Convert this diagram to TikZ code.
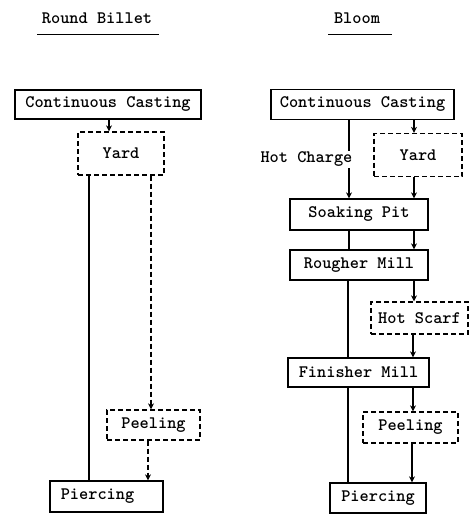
\documentclass[tikz,border=0pt]{standalone}
\usetikzlibrary{arrows.meta}
\begin{document}
\begin{tikzpicture}[x=1pt,y=-1pt,
  font=\fontsize{17.5}{19}\selectfont\ttfamily\bfseries,
  box/.style={draw,line width=1.3pt,inner sep=0pt,minimum width=#1},
  sbox/.style={box=#1},
  dbox/.style={box=#1,dash pattern=on 5pt off 3pt},
  line/.style={line width=1.2pt},
  arr/.style={line width=1.2pt,-{Stealth[length=6pt,width=6pt]}},
  darr/.style={arr,dash pattern=on 5pt off 3pt},
  ttl/.style={inner sep=0pt}]
\useasboundingbox (0,0) rectangle (470,514);
% titles
\node[ttl] (t1) at (97,18) {Round Billet};
\node[ttl] (t2) at (357,18) {Bloom};
\draw[line width=1pt] (37,34) coordinate (u1a) -- (159,34) coordinate (u1b);
\draw[line width=1pt] (328,34) coordinate (u2a) -- (392,34) coordinate (u2b);
% left column
\node[sbox=186pt,minimum height=29pt] (ccl) at (108,104.5) {Continuous Casting};
\node[dbox=86pt,minimum height=43pt] (yl) at (121,153.5) {Yard};
\node[dbox=93pt,minimum height=30pt] (pel) at (153.5,425) {Peeling};
\node[sbox=113pt,minimum height=31pt] (pil) at (106.5,496.5) {\hspace*{-18pt}Piercing};
\draw[arr] ([xshift=1pt]ccl.south) -- ([xshift=1pt]ccl.south |- yl.north);
\draw[line] ([xshift=-32pt]yl.south) -- ([xshift=-32pt]yl.south |- pil.north);
\draw[darr] ([xshift=30pt]yl.south) -- ([xshift=30pt]yl.south |- pel.north);
\draw[darr] ([xshift=-5.5pt]pel.south) -- ([xshift=-5.5pt]pel.south |- pil.north);
% right column
\node[sbox=183pt,minimum height=30pt] (ccr) at (362.5,104.5) {Continuous Casting};
\node[dbox=88pt,minimum height=43pt] (yr) at (418,155) {Yard};
\node[sbox=138pt,minimum height=31pt] (sp) at (359,214.5) {Soaking Pit};
\node[sbox=138pt,minimum height=30pt] (rm) at (359,265) {Rougher Mill};
\node[dbox=97pt,minimum height=32pt] (hs) at (419.5,318) {Hot Scarf};
\node[sbox=141pt,minimum height=29pt] (fm) at (358.5,372.5) {Finisher Mill};
\node[dbox=95pt,minimum height=31pt] (per) at (410.5,427.5) {Peeling};
\node[sbox=96pt,minimum height=30pt] (pir) at (378,498) {Piercing};
% right connectors
\draw[arr] ([xshift=-4pt]yr.north |- ccr.south) -- ([xshift=-4pt]yr.north);
\draw[arr] ([xshift=-10pt]sp.north |- ccr.south) -- ([xshift=-10pt]sp.north)
  node[pos=0.5,fill=white,inner sep=1pt,anchor=east,xshift=5pt] (hc) {Hot Charge};
\draw[arr] ([xshift=-4pt]yr.south) -- ([xshift=-4pt]yr.south |- sp.north);
\draw[line] ([xshift=-10pt]sp.south) -- ([xshift=-10pt]sp.south |- rm.north);
\draw[arr] ([xshift=55pt]sp.south) -- ([xshift=55pt]sp.south |- rm.north);
\draw[arr] ([xshift=55pt]rm.south) -- ([xshift=55pt]rm.south |- hs.north);
\draw[line] ([xshift=-11pt]rm.south) -- ([xshift=-11pt]rm.south |- fm.north);
\draw[arr] ([xshift=-6.5pt]hs.south) -- ([xshift=-6.5pt]hs.south |- fm.north);
\draw[arr] ([xshift=54.5pt]fm.south) -- ([xshift=54.5pt]fm.south |- per.north);
\draw[line] ([xshift=-10.5pt]fm.south) -- ([xshift=-10.5pt]fm.south |- pir.north);
\draw[arr] ([xshift=1.5pt]per.south) -- ([xshift=1.5pt]per.south |- pir.north);
\end{tikzpicture}
\end{document}
